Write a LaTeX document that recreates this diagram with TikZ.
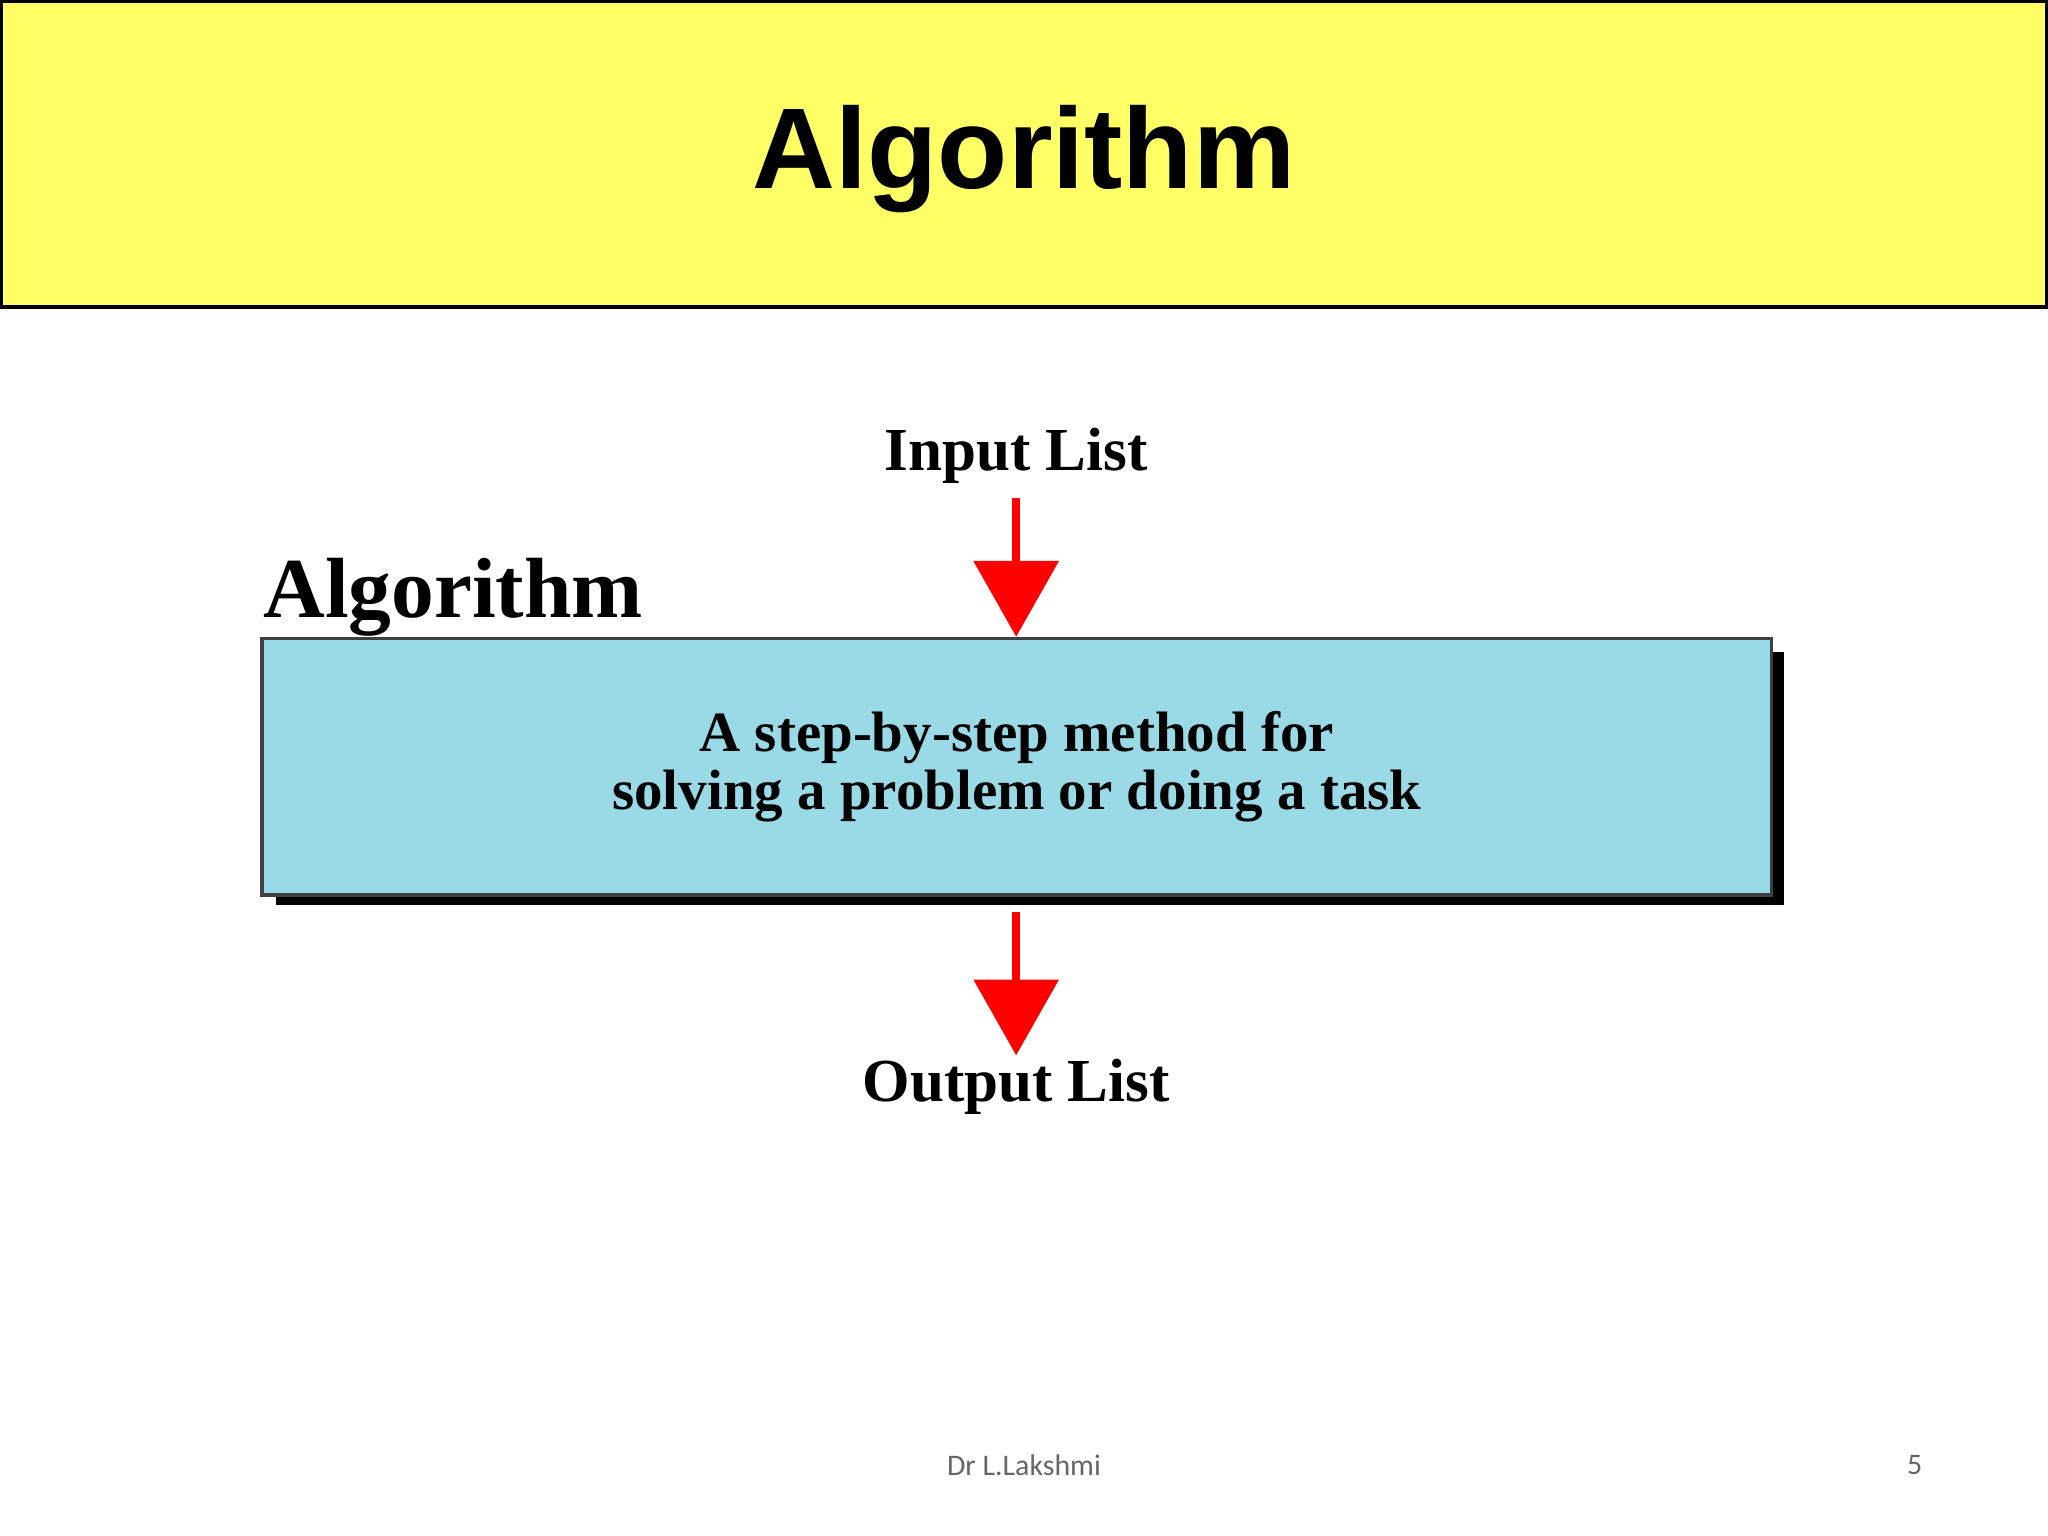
\documentclass[tikz,border=0pt]{standalone}
\usepackage{fontspec}
\setmainfont{Liberation Serif}
\newfontfamily\titlefont{Liberation Sans}
\newfontfamily\footfont{Carlito}
\usetikzlibrary{arrows.meta}
\definecolor{band}{HTML}{FFFF66}
\definecolor{boxblue}{HTML}{99DAE6}
\definecolor{arrred}{HTML}{FF0000}
\tikzset{redarrow/.style={draw=arrred,line width=0.06cm,-{Triangle[width=0.64cm,length=0.58cm]}}}
\begin{document}
\begin{tikzpicture}[x=0.01cm,y=-0.01cm]
\useasboundingbox (0,0) rectangle (1568,1176);
\fill[white] (0,0) rectangle (1568,1176);
\draw[fill=band,line width=0.8pt] (1,1) rectangle (1567,235);
\node[font=\titlefont\bfseries\fontsize{25}{28}\selectfont] (title) at (784,122) {Algorithm};
\fill[black] (211,499) rectangle (1366,693);
\node[draw=black!75,fill=boxblue,minimum width=11.55cm,minimum height=1.96cm,inner sep=0pt,line width=0.8pt,
  align=center,font=\bfseries\fontsize{12.4}{12.6}\selectfont] (box) at (778.5,587) {A step-by-step method for\\solving a problem or doing a task};
\node[font=\bfseries\fontsize{18.6}{22}\selectfont,anchor=base west,inner sep=0pt] (lbl) at (201,473) {Algorithm};
\node[font=\bfseries\fontsize{13.3}{16}\selectfont,anchor=base,inner sep=0pt] (in) at (778,360) {Input List};
\node[font=\bfseries\fontsize{13.3}{16}\selectfont,anchor=base,inner sep=0pt] (out) at (778,843) {Output List};
\coordinate (a1) at (778,381);
\coordinate (a2) at (778,698);
\coordinate (a2e) at (778,808);
\draw[redarrow] (a1) -- (box.north -| a1);
\draw[redarrow] (a2) -- (a2e);
\node[font=\footfont\fontsize{6.5}{8}\selectfont,text=black!60] (foot) at (784,1122) {Dr L.Lakshmi};
\node[font=\footfont\fontsize{6.5}{8}\selectfont,text=black!60] (pg) at (1466,1122) {5};
\end{tikzpicture}
\end{document}
